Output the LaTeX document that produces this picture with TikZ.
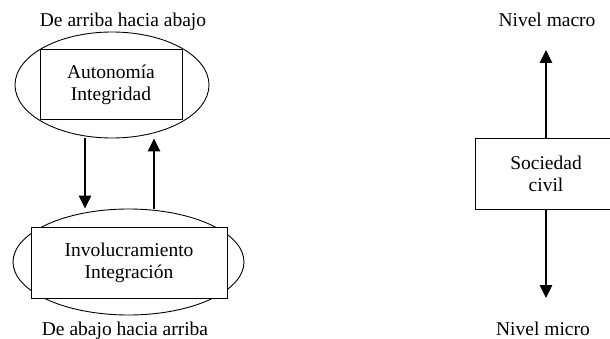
\documentclass[tikz,border=0pt]{standalone}
\usepackage{fontspec}
\setmainfont{Liberation Serif}
\usetikzlibrary{shapes.geometric,arrows.meta}
\begin{document}
\begin{tikzpicture}[x=1pt,y=-1pt,
  txt/.style={font=\fontsize{19.5}{22}\selectfont, inner sep=0pt},
  ell/.style={draw, shape=ellipse, inner sep=0pt, line width=0.9pt},
  boxn/.style={draw, fill=white, line width=1pt, align=center, inner sep=0pt,
    font=\fontsize{19.5}{22}\selectfont},
  arr/.style={line width=2.6pt, -{Triangle[width=12pt,length=13pt]}}]
\useasboundingbox (0,0) rectangle (610,339);
% left top
\node[ell, minimum width=194pt, minimum height=106pt] (topell) at (112,85) {};
\node[boxn, minimum width=142pt, minimum height=70pt] (topbox) at (111,85) {Autonomía\\Integridad};
% left bottom
\node[ell, minimum width=231pt, minimum height=106pt] (botell) at (128.5,262) {};
\node[boxn, minimum width=196pt, minimum height=71pt] (botbox) at (129,262.5) {Involucramiento\\Integración};
% titles
\node[txt, anchor=base] (t1) at (123,27) {De arriba hacia abajo};
\node[txt, anchor=base] (t2) at (125,335) {De abajo hacia arriba};
% arrows left
\coordinate (dx) at (85,0);
\coordinate (ux) at (154,0);
\draw[arr] (topell.south -| dx) -- (botell.north -| dx);
\draw[arr] (botell.north -| ux) -- (topell.south -| ux);
% right
\node[boxn, minimum width=142pt, minimum height=70pt] (soc) at (546,174) {Sociedad\\civil};
\node[txt, anchor=base] (macro) at (547,27) {Nivel macro};
\node[txt, anchor=base] (micro) at (543,335) {Nivel micro};
\coordinate (uptip) at (546,50);
\coordinate (dntip) at (546,298);
\draw[arr] (soc.north) -- (uptip);
\draw[arr] (soc.south) -- (dntip);
\end{tikzpicture}
\end{document}
